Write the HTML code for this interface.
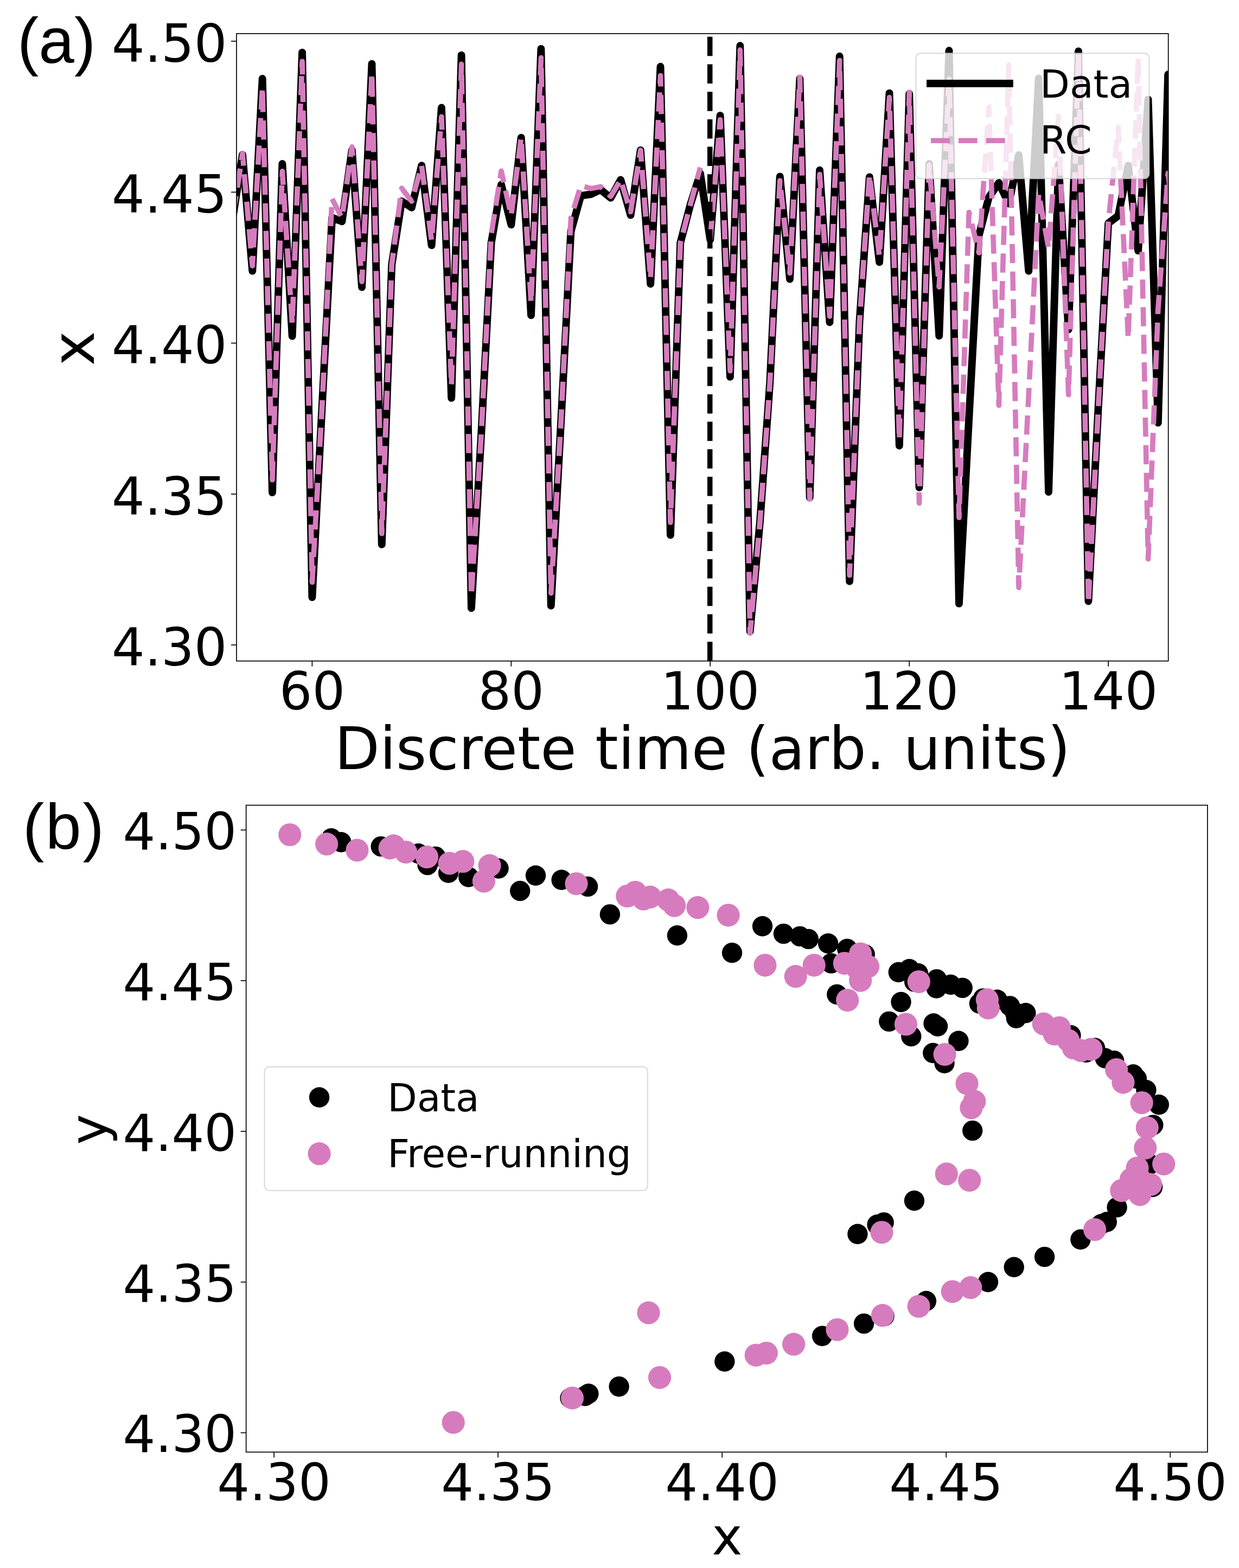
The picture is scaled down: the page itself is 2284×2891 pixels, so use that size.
<!DOCTYPE html>
<html lang="en"><head><meta charset="utf-8"><title>Figure</title>
<style>html,body{margin:0;padding:0;background:#fff}body{width:2284px;height:2891px;overflow:hidden}svg{display:block}</style>
</head><body>
<svg width="2284" height="2891" viewBox="0 0 2284 2891">
<rect width="2284" height="2891" fill="#fff"/>
<defs>
<clipPath id="ca"><rect x="436.0" y="62.0" width="1717.6999999999998" height="1156.7"/></clipPath>
<clipPath id="cb"><rect x="453.7" y="1484.6" width="1772.2" height="1192.7000000000003"/></clipPath>
</defs>
<g clip-path="url(#ca)" fill="none">
<polyline points="428.6,405.0 447.0,285.3 465.3,499.6 483.7,145.0 502.0,908.1 520.4,302.0 538.7,619.8 557.1,96.6 575.4,1101.3 593.7,749.5 612.1,401.1 630.4,408.3 648.8,276.9 667.1,529.6 685.5,117.7 703.8,1003.9 722.2,487.9 740.5,371.0 758.9,382.7 777.2,305.3 795.6,452.3 813.9,198.5 832.2,733.9 850.6,101.6 868.9,1121.3 887.3,797.9 905.6,447.8 924.0,340.4 942.3,414.4 960.7,253.6 979.0,581.4 997.4,89.9 1015.7,1116.8 1034.0,780.1 1052.4,426.7 1070.7,361.0 1089.1,358.2 1107.4,349.8 1125.8,364.9 1144.1,331.5 1162.5,396.6 1180.8,276.9 1199.2,523.5 1217.5,122.8 1235.9,986.6 1254.2,447.8 1272.5,377.7 1290.9,319.8 1309.2,441.7 1327.6,212.9 1345.9,694.9 1364.3,84.3 1382.6,1164.2 1401.0,961.0 1419.3,705.0 1437.7,325.4 1456.0,514.6 1474.4,145.0 1492.7,917.6 1511.0,313.7 1529.4,594.2 1547.7,103.8 1566.1,1071.8 1584.4,593.6 1602.8,326.5 1621.1,483.4 1639.5,171.7 1657.8,821.8 1676.2,172.8 1694.5,898.7 1712.9,302.0 1731.2,619.2 1749.5,93.3 1767.9,1112.9 1786.2,771.8 1804.6,433.9 1822.9,363.8 1841.3,337.0 1859.6,375.5 1878.0,285.8 1896.3,499.6 1914.7,144.5 1933.0,907.0 1951.3,303.6 1969.7,607.6 1988.0,94.4 2006.4,1108.5 2024.7,749.5 2043.1,411.6 2061.4,397.7 2079.8,305.3 2098.1,462.3 2116.5,183.4 2134.8,779.5 2153.2,137.2 2171.5,938.7" stroke="#000" stroke-width="13.9" stroke-linejoin="round" stroke-linecap="square"/>
<polyline points="428.6,405.0 447.0,283.1 465.3,490.1 483.7,161.2 502.0,884.7 520.4,315.9 538.7,596.4 557.1,113.3 575.4,1073.4 593.7,749.5 612.1,366.5 630.4,401.6 648.8,270.8 667.1,519.1 685.5,134.4 703.8,983.8 722.2,487.9 740.5,347.1 758.9,371.0 777.2,305.3 795.6,443.4 813.9,215.2 832.2,710.5 850.6,118.3 868.9,1097.9 887.3,797.9 905.6,432.2 924.0,315.3 942.3,397.2 960.7,253.6 979.0,558.0 997.4,106.6 1015.7,1093.5 1034.0,780.1 1052.4,402.2 1070.7,342.1 1089.1,347.6 1107.4,344.3 1125.8,362.1 1144.1,331.5 1162.5,390.5 1180.8,276.9 1199.2,513.5 1217.5,139.5 1235.9,963.2 1254.2,447.8 1272.5,377.7 1290.9,308.7" stroke="#d67cbe" stroke-width="9.6" stroke-linejoin="round" stroke-linecap="butt" stroke-dasharray="35.3 15.6" stroke-dashoffset="42.03"/>
<polyline points="1309.2,441.7 1327.6,220.7 1345.9,683.8 1364.3,92.1 1382.6,1167.5 1401.0,961.0 1419.3,705.0 1437.7,333.1 1456.0,503.5 1474.4,142.2 1492.7,920.4 1511.0,321.5 1529.4,583.1 1547.7,111.6 1566.1,1060.6 1584.4,593.6 1602.8,322.6 1621.1,472.3 1639.5,179.5 1657.8,810.7 1676.2,170.1 1694.5,927.6 1712.9,304.2 1731.2,529.1 1749.5,145.6 1767.9,954.3 1786.2,391.6 1804.6,466.2 1822.9,197.3 1841.3,747.3 1859.6,120.0 1878.0,1083.4 1896.3,727.8 1914.7,357.1 1933.0,457.3 1951.3,214.0 1969.7,727.8 1988.0,99.4 2006.4,1111.3 2024.7,749.5 2043.1,410.0 2061.4,234.6 2079.8,623.7 2098.1,106.1 2116.5,1030.6 2134.8,570.3 2153.2,319.2 2171.5,465.6" stroke="#d67cbe" stroke-width="9.6" stroke-linejoin="round" stroke-linecap="butt" stroke-dasharray="35.3 15.6" stroke-dashoffset="0"/>
<line x1="1308.7" y1="1218.7" x2="1308.7" y2="62.0" stroke="#000" stroke-width="9.5" stroke-dasharray="35.5 15.2"/>
</g>
<rect x="1688.4" y="98.3" width="430.0" height="231.0" rx="8.5" ry="8.5" fill="#fff" fill-opacity="0.8" stroke="#ccc" stroke-opacity="0.8" stroke-width="1.9"/>
<line x1="1715.0" y1="153.9" x2="1860.8" y2="153.9" stroke="#000" stroke-width="13.9" stroke-linecap="square"/>
<line x1="1716.0" y1="259.3" x2="1860.5" y2="259.3" stroke="#d67cbe" stroke-width="9.6" stroke-dasharray="34.8 16.1"/>
<text x="1917.0" y="179.6" font-family="'DejaVu Sans','Liberation Sans',sans-serif" font-size="71.3">Data</text>
<text x="1917.0" y="282.7" font-family="'DejaVu Sans','Liberation Sans',sans-serif" font-size="71.3">RC</text>
<rect x="436.0" y="62.0" width="1717.7" height="1156.7" fill="none" stroke="#000" stroke-width="1.7"/>
<line x1="426.0" y1="1189.2" x2="436.0" y2="1189.2" stroke="#000" stroke-width="1.7"/>
<text x="418.6" y="1227.0" text-anchor="end" font-family="'DejaVu Sans','Liberation Sans',sans-serif" font-size="95.5">4.30</text>
<line x1="426.0" y1="910.9" x2="436.0" y2="910.9" stroke="#000" stroke-width="1.7"/>
<text x="418.6" y="948.7" text-anchor="end" font-family="'DejaVu Sans','Liberation Sans',sans-serif" font-size="95.5">4.35</text>
<line x1="426.0" y1="632.6" x2="436.0" y2="632.6" stroke="#000" stroke-width="1.7"/>
<text x="418.6" y="670.4" text-anchor="end" font-family="'DejaVu Sans','Liberation Sans',sans-serif" font-size="95.5">4.40</text>
<line x1="426.0" y1="354.3" x2="436.0" y2="354.3" stroke="#000" stroke-width="1.7"/>
<text x="418.6" y="392.1" text-anchor="end" font-family="'DejaVu Sans','Liberation Sans',sans-serif" font-size="95.5">4.45</text>
<line x1="426.0" y1="76.0" x2="436.0" y2="76.0" stroke="#000" stroke-width="1.7"/>
<text x="418.6" y="113.8" text-anchor="end" font-family="'DejaVu Sans','Liberation Sans',sans-serif" font-size="95.5">4.50</text>
<line x1="575.4" y1="1218.7" x2="575.4" y2="1228.7" stroke="#000" stroke-width="1.7"/>
<text x="575.4" y="1308.3" text-anchor="middle" font-family="'DejaVu Sans','Liberation Sans',sans-serif" font-size="95.5">60</text>
<line x1="942.3" y1="1218.7" x2="942.3" y2="1228.7" stroke="#000" stroke-width="1.7"/>
<text x="942.3" y="1308.3" text-anchor="middle" font-family="'DejaVu Sans','Liberation Sans',sans-serif" font-size="95.5">80</text>
<line x1="1309.2" y1="1218.7" x2="1309.2" y2="1228.7" stroke="#000" stroke-width="1.7"/>
<text x="1309.2" y="1308.3" text-anchor="middle" font-family="'DejaVu Sans','Liberation Sans',sans-serif" font-size="95.5">100</text>
<line x1="1676.2" y1="1218.7" x2="1676.2" y2="1228.7" stroke="#000" stroke-width="1.7"/>
<text x="1676.2" y="1308.3" text-anchor="middle" font-family="'DejaVu Sans','Liberation Sans',sans-serif" font-size="95.5">120</text>
<line x1="2043.1" y1="1218.7" x2="2043.1" y2="1228.7" stroke="#000" stroke-width="1.7"/>
<text x="2043.1" y="1308.3" text-anchor="middle" font-family="'DejaVu Sans','Liberation Sans',sans-serif" font-size="95.5">140</text>
<text x="1294.9" y="1417.8" text-anchor="middle" font-family="'DejaVu Sans','Liberation Sans',sans-serif" font-size="108">Discrete time (arb. units)</text>
<text transform="translate(173.4,642.4) rotate(-90)" text-anchor="middle" font-family="'DejaVu Sans','Liberation Sans',sans-serif" font-size="108">x</text>
<text x="32.0" y="115.7" font-family="'Liberation Sans','DejaVu Sans',sans-serif" font-size="118">(a)</text>
<g clip-path="url(#cb)">
<g fill="#000">
<circle cx="610.7" cy="1545.7" r="18.7"/>
<circle cx="628.9" cy="1552.7" r="18.7"/>
<circle cx="702.2" cy="1560.6" r="18.7"/>
<circle cx="771.4" cy="1573.8" r="18.7"/>
<circle cx="803.0" cy="1579.4" r="18.7"/>
<circle cx="788.1" cy="1594.9" r="18.7"/>
<circle cx="826.6" cy="1609.3" r="18.7"/>
<circle cx="863.8" cy="1617.0" r="18.7"/>
<circle cx="919.0" cy="1601.2" r="18.7"/>
<circle cx="958.7" cy="1642.6" r="18.7"/>
<circle cx="987.5" cy="1614.2" r="18.7"/>
<circle cx="1035.1" cy="1622.3" r="18.7"/>
<circle cx="1083.6" cy="1634.6" r="18.7"/>
<circle cx="1124.4" cy="1685.9" r="18.7"/>
<circle cx="1248.4" cy="1724.8" r="18.7"/>
<circle cx="1349.5" cy="1756.8" r="18.7"/>
<circle cx="1405.5" cy="1707.7" r="18.7"/>
<circle cx="1444.4" cy="1721.6" r="18.7"/>
<circle cx="1474.5" cy="1726.4" r="18.7"/>
<circle cx="1490.3" cy="1731.4" r="18.7"/>
<circle cx="1526.6" cy="1739.5" r="18.7"/>
<circle cx="1561.7" cy="1749.5" r="18.7"/>
<circle cx="1594.3" cy="1759.7" r="18.7"/>
<circle cx="1532.2" cy="1776.1" r="18.7"/>
<circle cx="1542.8" cy="1833.5" r="18.7"/>
<circle cx="1656.3" cy="1792.5" r="18.7"/>
<circle cx="1676.3" cy="1786.7" r="18.7"/>
<circle cx="1692.6" cy="1794.8" r="18.7"/>
<circle cx="1685.6" cy="1810.1" r="18.7"/>
<circle cx="1726.7" cy="1805.6" r="18.7"/>
<circle cx="1752.5" cy="1815.5" r="18.7"/>
<circle cx="1726.2" cy="1822.0" r="18.7"/>
<circle cx="1774.2" cy="1821.4" r="18.7"/>
<circle cx="1661.0" cy="1847.5" r="18.7"/>
<circle cx="1638.8" cy="1883.4" r="18.7"/>
<circle cx="1679.8" cy="1910.8" r="18.7"/>
<circle cx="1721.0" cy="1887.0" r="18.7"/>
<circle cx="1728.5" cy="1892.2" r="18.7"/>
<circle cx="1766.9" cy="1919.2" r="18.7"/>
<circle cx="1719.8" cy="1941.5" r="18.7"/>
<circle cx="1741.0" cy="1960.3" r="18.7"/>
<circle cx="1805.4" cy="1850.3" r="18.7"/>
<circle cx="1812.4" cy="1840.9" r="18.7"/>
<circle cx="1838.2" cy="1843.2" r="18.7"/>
<circle cx="1861.6" cy="1854.9" r="18.7"/>
<circle cx="1871.0" cy="1866.7" r="18.7"/>
<circle cx="1873.3" cy="1877.2" r="18.7"/>
<circle cx="1890.9" cy="1867.8" r="18.7"/>
<circle cx="1974.0" cy="1908.8" r="18.7"/>
<circle cx="2018.5" cy="1932.2" r="18.7"/>
<circle cx="2002.1" cy="1940.4" r="18.7"/>
<circle cx="2037.2" cy="1951.0" r="18.7"/>
<circle cx="2053.6" cy="1955.6" r="18.7"/>
<circle cx="2089.0" cy="1981.0" r="18.7"/>
<circle cx="2095.4" cy="1988.6" r="18.7"/>
<circle cx="2112.9" cy="2009.7" r="18.7"/>
<circle cx="2136.3" cy="2036.7" r="18.7"/>
<circle cx="2125.8" cy="2074.1" r="18.7"/>
<circle cx="2120.0" cy="2146.5" r="18.7"/>
<circle cx="2124.6" cy="2188.5" r="18.7"/>
<circle cx="2059.1" cy="2226.0" r="18.7"/>
<circle cx="2040.3" cy="2253.0" r="18.7"/>
<circle cx="2030.0" cy="2257.0" r="18.7"/>
<circle cx="1991.9" cy="2285.3" r="18.7"/>
<circle cx="1925.6" cy="2317.4" r="18.7"/>
<circle cx="1869.2" cy="2336.3" r="18.7"/>
<circle cx="1685.4" cy="2213.8" r="18.7"/>
<circle cx="1629.2" cy="2253.9" r="18.7"/>
<circle cx="1580.9" cy="2275.3" r="18.7"/>
<circle cx="1821.5" cy="2363.7" r="18.7"/>
<circle cx="1707.4" cy="2398.8" r="18.7"/>
<circle cx="1630.1" cy="2426.6" r="18.7"/>
<circle cx="1592.6" cy="2440.4" r="18.7"/>
<circle cx="1515.6" cy="2463.2" r="18.7"/>
<circle cx="1084.9" cy="2569.7" r="18.7"/>
<circle cx="1141.1" cy="2556.5" r="18.7"/>
<circle cx="1335.8" cy="2510.3" r="18.7"/>
<circle cx="1051.0" cy="2577.6" r="18.7"/>
<circle cx="1792.7" cy="2084.6" r="18.7"/>
<circle cx="1617.0" cy="2258.0" r="18.7"/>
<circle cx="1078.6" cy="2573.7" r="18.7"/>
</g>
<g fill="#d67cbe">
<circle cx="534.3" cy="1539.0" r="21.1"/>
<circle cx="602.2" cy="1556.2" r="21.1"/>
<circle cx="658.4" cy="1567.6" r="21.1"/>
<circle cx="718.7" cy="1563.6" r="21.1"/>
<circle cx="725.7" cy="1559.4" r="21.1"/>
<circle cx="748.2" cy="1571.1" r="21.1"/>
<circle cx="787.0" cy="1580.0" r="21.1"/>
<circle cx="828.7" cy="1591.7" r="21.1"/>
<circle cx="853.3" cy="1588.2" r="21.1"/>
<circle cx="902.5" cy="1595.9" r="21.1"/>
<circle cx="891.9" cy="1624.7" r="21.1"/>
<circle cx="1062.5" cy="1629.3" r="21.1"/>
<circle cx="1156.3" cy="1652.1" r="21.1"/>
<circle cx="1171.1" cy="1645.1" r="21.1"/>
<circle cx="1186.2" cy="1657.4" r="21.1"/>
<circle cx="1198.5" cy="1653.9" r="21.1"/>
<circle cx="1231.8" cy="1659.2" r="21.1"/>
<circle cx="1243.1" cy="1669.7" r="21.1"/>
<circle cx="1286.3" cy="1673.2" r="21.1"/>
<circle cx="1342.5" cy="1687.3" r="21.1"/>
<circle cx="1410.4" cy="1779.6" r="21.1"/>
<circle cx="1466.7" cy="1800.2" r="21.1"/>
<circle cx="1500.6" cy="1779.6" r="21.1"/>
<circle cx="1556.8" cy="1776.1" r="21.1"/>
<circle cx="1586.1" cy="1758.5" r="21.1"/>
<circle cx="1600.1" cy="1782.0" r="21.1"/>
<circle cx="1581.4" cy="1786.7" r="21.1"/>
<circle cx="1586.1" cy="1807.7" r="21.1"/>
<circle cx="1562.2" cy="1844.0" r="21.1"/>
<circle cx="1693.8" cy="1810.1" r="21.1"/>
<circle cx="1669.9" cy="1888.5" r="21.1"/>
<circle cx="1741.6" cy="1944.0" r="21.1"/>
<circle cx="1819.9" cy="1843.2" r="21.1"/>
<circle cx="1821.8" cy="1858.5" r="21.1"/>
<circle cx="1923.7" cy="1887.7" r="21.1"/>
<circle cx="1943.6" cy="1906.5" r="21.1"/>
<circle cx="1952.9" cy="1894.8" r="21.1"/>
<circle cx="1969.3" cy="1918.2" r="21.1"/>
<circle cx="1978.7" cy="1932.2" r="21.1"/>
<circle cx="1992.7" cy="1936.9" r="21.1"/>
<circle cx="2011.5" cy="1934.6" r="21.1"/>
<circle cx="2058.1" cy="1972.1" r="21.1"/>
<circle cx="2070.4" cy="1995.6" r="21.1"/>
<circle cx="1782.5" cy="1997.8" r="21.1"/>
<circle cx="1796.3" cy="2030.7" r="21.1"/>
<circle cx="1790.4" cy="2042.4" r="21.1"/>
<circle cx="2104.7" cy="2033.1" r="21.1"/>
<circle cx="2114.8" cy="2079.3" r="21.1"/>
<circle cx="2111.3" cy="2116.7" r="21.1"/>
<circle cx="2145.2" cy="2146.1" r="21.1"/>
<circle cx="2096.5" cy="2153.5" r="21.1"/>
<circle cx="2084.8" cy="2174.6" r="21.1"/>
<circle cx="2103.6" cy="2176.8" r="21.1"/>
<circle cx="2121.1" cy="2183.9" r="21.1"/>
<circle cx="2067.3" cy="2195.1" r="21.1"/>
<circle cx="2101.2" cy="2202.6" r="21.1"/>
<circle cx="2018.1" cy="2267.0" r="21.1"/>
<circle cx="1744.8" cy="2164.4" r="21.1"/>
<circle cx="1787.2" cy="2176.1" r="21.1"/>
<circle cx="1625.4" cy="2272.1" r="21.1"/>
<circle cx="1755.7" cy="2381.3" r="21.1"/>
<circle cx="1789.3" cy="2373.9" r="21.1"/>
<circle cx="1693.6" cy="2408.5" r="21.1"/>
<circle cx="1626.9" cy="2425.2" r="21.1"/>
<circle cx="1543.4" cy="2451.5" r="21.1"/>
<circle cx="1463.1" cy="2478.4" r="21.1"/>
<circle cx="1055.0" cy="2577.6" r="21.1"/>
<circle cx="1195.5" cy="2420.4" r="21.1"/>
<circle cx="1216.0" cy="2539.8" r="21.1"/>
<circle cx="1393.7" cy="2498.6" r="21.1"/>
<circle cx="1412.8" cy="2494.8" r="21.1"/>
<circle cx="835.7" cy="2622.6" r="21.1"/>
</g>
</g>
<rect x="487.5" y="1967.0" width="706.3" height="228.1" rx="8.5" ry="8.5" fill="#fff" fill-opacity="0.8" stroke="#ccc" stroke-opacity="0.8" stroke-width="1.9"/>
<circle cx="588.6" cy="2023.2" r="18.7" fill="#000"/>
<circle cx="588.6" cy="2127.2" r="21.1" fill="#d67cbe"/>
<text x="714.3" y="2049.0" font-family="'DejaVu Sans','Liberation Sans',sans-serif" font-size="70.9">Data</text>
<text x="714.3" y="2152.0" font-family="'DejaVu Sans','Liberation Sans',sans-serif" font-size="70.9">Free-running</text>
<rect x="453.7" y="1484.6" width="1772.2" height="1192.7" fill="none" stroke="#000" stroke-width="1.7"/>
<line x1="443.7" y1="2641.6" x2="453.7" y2="2641.6" stroke="#000" stroke-width="1.7"/>
<text x="436.3" y="2677.4" text-anchor="end" font-family="'DejaVu Sans','Liberation Sans',sans-serif" font-size="94.2">4.30</text>
<line x1="505.1" y1="2677.3" x2="505.1" y2="2687.3" stroke="#000" stroke-width="1.7"/>
<text x="505.1" y="2765.9" text-anchor="middle" font-family="'DejaVu Sans','Liberation Sans',sans-serif" font-size="94.2">4.30</text>
<line x1="443.7" y1="2363.8" x2="453.7" y2="2363.8" stroke="#000" stroke-width="1.7"/>
<text x="436.3" y="2399.6" text-anchor="end" font-family="'DejaVu Sans','Liberation Sans',sans-serif" font-size="94.2">4.35</text>
<line x1="918.1" y1="2677.3" x2="918.1" y2="2687.3" stroke="#000" stroke-width="1.7"/>
<text x="918.1" y="2765.9" text-anchor="middle" font-family="'DejaVu Sans','Liberation Sans',sans-serif" font-size="94.2">4.35</text>
<line x1="443.7" y1="2085.9" x2="453.7" y2="2085.9" stroke="#000" stroke-width="1.7"/>
<text x="436.3" y="2121.7" text-anchor="end" font-family="'DejaVu Sans','Liberation Sans',sans-serif" font-size="94.2">4.40</text>
<line x1="1331.2" y1="2677.3" x2="1331.2" y2="2687.3" stroke="#000" stroke-width="1.7"/>
<text x="1331.2" y="2765.9" text-anchor="middle" font-family="'DejaVu Sans','Liberation Sans',sans-serif" font-size="94.2">4.40</text>
<line x1="443.7" y1="1808.1" x2="453.7" y2="1808.1" stroke="#000" stroke-width="1.7"/>
<text x="436.3" y="1843.9" text-anchor="end" font-family="'DejaVu Sans','Liberation Sans',sans-serif" font-size="94.2">4.45</text>
<line x1="1744.2" y1="2677.3" x2="1744.2" y2="2687.3" stroke="#000" stroke-width="1.7"/>
<text x="1744.2" y="2765.9" text-anchor="middle" font-family="'DejaVu Sans','Liberation Sans',sans-serif" font-size="94.2">4.45</text>
<line x1="443.7" y1="1530.3" x2="453.7" y2="1530.3" stroke="#000" stroke-width="1.7"/>
<text x="436.3" y="1566.1" text-anchor="end" font-family="'DejaVu Sans','Liberation Sans',sans-serif" font-size="94.2">4.50</text>
<line x1="2157.2" y1="2677.3" x2="2157.2" y2="2687.3" stroke="#000" stroke-width="1.7"/>
<text x="2157.2" y="2765.9" text-anchor="middle" font-family="'DejaVu Sans','Liberation Sans',sans-serif" font-size="94.2">4.50</text>
<text x="1340.4" y="2866.3" text-anchor="middle" font-family="'DejaVu Sans','Liberation Sans',sans-serif" font-size="95">x</text>
<text transform="translate(196.0,2082.5) rotate(-90)" text-anchor="middle" font-family="'DejaVu Sans','Liberation Sans',sans-serif" font-size="95">y</text>
<text x="42.0" y="1565.4" letter-spacing="2.8" font-family="'Liberation Sans','DejaVu Sans',sans-serif" font-size="118">(b)</text>
</svg>
</body></html>
